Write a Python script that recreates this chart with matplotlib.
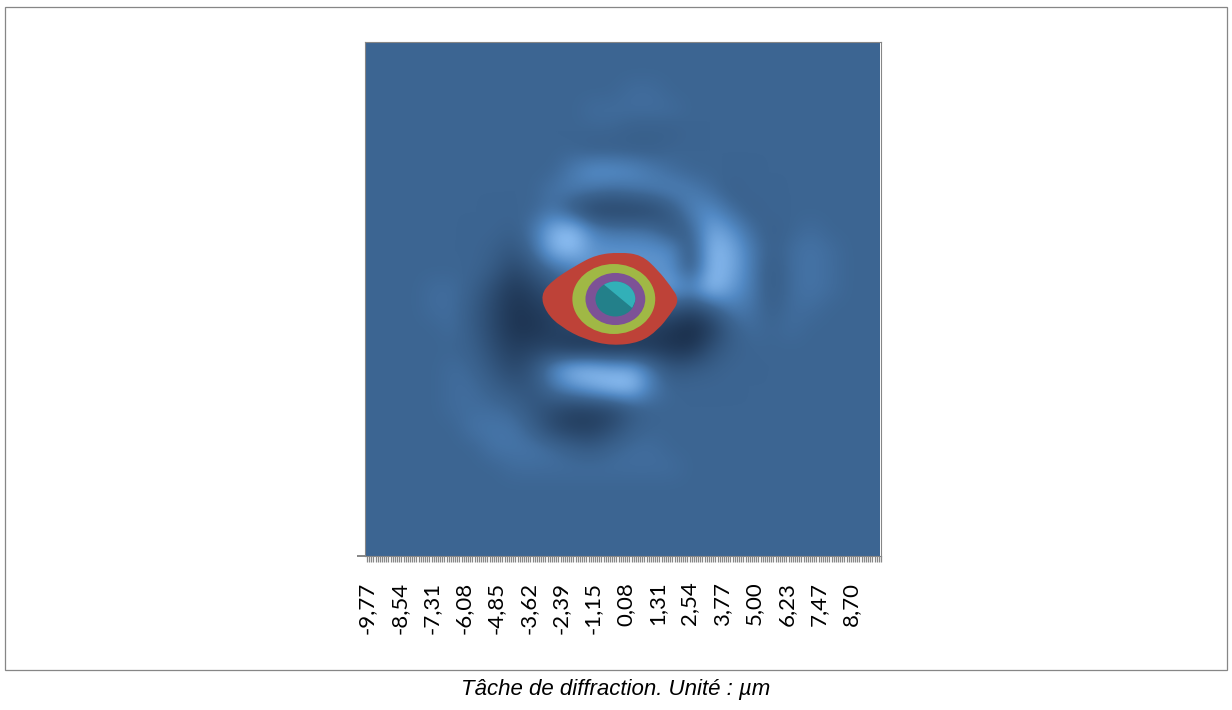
import numpy as np
import matplotlib
matplotlib.use('Agg')
import matplotlib.pyplot as plt
from matplotlib.colors import LinearSegmentedColormap
from matplotlib.patches import Ellipse, PathPatch, Rectangle
from matplotlib.path import Path

# surface shading, top row first, 26 x 26 cells
shade = [
    [0, 0, 0, 0, 0, 0, 0, 0, 0, 0, 0, 0, 0, 0, 0, 0, 0, 0, 0, 0, 0, 0, 0, 0, 0, 0],
    [0, 0, 0, 0, 0, 0, 0, 0, 0, 0, 0, 0, 0, 0, 0, 0, 0, 0, 0, 0, 0, 0, 0, 0, 0, 0],
    [0, 0, 0, 0, 0, 0, 0, 0, 0, 0, 0, 0, 0, 1, 1, 0, 0, 0, 0, 0, 0, 0, 0, 0, 0, 0],
    [0, 0, 0, 0, 0, 0, 0, 0, 0, 0, 0, 1, 1, 1, 1, 1, 0, 0, 0, 0, 0, 0, 0, 0, 0, 0],
    [0, 0, 0, 0, 0, 0, 0, 0, 0, 0, 0, 0, 0, -1, -1, -1, 0, 0, 0, 0, 0, 0, 0, 0, 0, 0],
    [0, 0, 0, 0, 0, 0, 0, 0, 0, 0, 0, -1, -1, -1, -1, 0, 0, 0, 0, 0, 0, 0, 0, 0, 0, 0],
    [0, 0, 0, 0, 0, 0, 0, 0, 0, 0, 3, 6, 6, 5, 3, 1, 0, 0, 0, 0, 0, 0, 0, 0, 0, 0],
    [0, 0, 0, 0, 0, 0, 0, 0, 0, 2, 3, 2, 1, 2, 3, 4, 3, 1, -1, 0, 0, 0, 0, 0, 0, 0],
    [0, 0, 0, 0, 0, 0, 0, 0, 0, 2, -3, -7, -7, -7, -6, -2, 4, 5, 1, -1, 0, 0, 0, 0, 0, 0],
    [0, 0, 0, 0, 0, 0, 0, -1, 2, 10, 12, 4, 2, 2, 1, -3, 0, 9, 6, 1, -1, 0, 1, 0, 0, 0],
    [0, 0, 0, 0, 0, 0, -1, -3, 1, 10, 12, 6, 6, 6, 6, 5, -3, 11, 9, 3, -1, 1, 2, 1, 0, 0],
    [0, 0, 0, 0, 0, 0, -2, -6, -3, 1, 3, 6, 6, 6, 6, 6, -3, 11, 9, 3, -2, 1, 2, 1, 0, 0],
    [0, 0, 0, 1, 1, -1, -5, -9, -7, -3, 0, 3, 3, 3, 5, 8, 5, 12, 7, 3, -2, 1, 2, 1, 0, 0],
    [0, 0, 0, 1, 1, -2, -6, -10, -9, -7, -5, -3, -3, -3, -3, -3, -6, -2, 3, 2, -1, 1, 1, 0, 0, 0],
    [0, 0, 0, 0, 1, -2, -6, -10, -10, -8, -6, -6, -6, -6, -8, -10, -12, -8, -1, 1, 0, 1, 0, 0, 0, 0],
    [0, 0, 0, 0, 0, -1, -5, -8, -7, -7, -10, -10, -10, -10, -9, -10, -10, -4, -1, 0, 0, 0, 0, 0, 0, 0],
    [0, 0, 0, 0, 1, 0, -3, -6, -3, 5, 11, 11, 9, 9, 2, -3, -2, -1, 0, 0, 0, 0, 0, 0, 0, 0],
    [0, 0, 0, 0, 1, 1, -1, -3, -3, 2, 6, 9, 12, 12, 3, 0, 0, 0, 0, 0, 0, 0, 0, 0, 0, 0],
    [0, 0, 0, 0, 1, 1, 1, 0, -3, -5, -7, -7, -6, -2, 0, 0, 0, 0, 0, 0, 0, 0, 0, 0, 0, 0],
    [0, 0, 0, 0, 0, 2, 2, 2, -1, -6, -8, -8, -5, -1, 0, 0, 0, 0, 0, 0, 0, 0, 0, 0, 0, 0],
    [0, 0, 0, 0, 0, 0, 2, 2, 2, 1, -1, -2, 0, 1, 1, 0, 0, 0, 0, 0, 0, 0, 0, 0, 0, 0],
    [0, 0, 0, 0, 0, 0, 0, 1, 1, 1, 1, 1, 1, 1, 1, 1, 0, 0, 0, 0, 0, 0, 0, 0, 0, 0],
    [0, 0, 0, 0, 0, 0, 0, 0, 0, 0, 0, 0, 0, 0, 0, 0, 0, 0, 0, 0, 0, 0, 0, 0, 0, 0],
    [0, 0, 0, 0, 0, 0, 0, 0, 0, 0, 0, 0, 0, 0, 0, 0, 0, 0, 0, 0, 0, 0, 0, 0, 0, 0],
    [0, 0, 0, 0, 0, 0, 0, 0, 0, 0, 0, 0, 0, 0, 0, 0, 0, 0, 0, 0, 0, 0, 0, 0, 0, 0],
    [0, 0, 0, 0, 0, 0, 0, 0, 0, 0, 0, 0, 0, 0, 0, 0, 0, 0, 0, 0, 0, 0, 0, 0, 0, 0],
]

# red teardrop outline, micrometres
red_x = [-3.15, -2.74, -1.80, -1.03, -0.15, 0.70, 1.32, 1.80, 2.15, 1.80, 1.32, 0.65, -0.42, -1.45, -2.40, -2.95]
red_y = [0.15, 0.68, 1.28, 1.68, 1.78, 1.68, 1.10, 0.50, -0.04, -0.58, -1.18, -1.65, -1.78, -1.55, -1.05, -0.50]

# inner bands: centre x, width, height in micrometres
band_cx = [-0.36, -0.30, -0.30]
band_w = [3.16, 2.28, 1.52]
band_h = [2.66, 1.98, 1.33]
band_col = ['#A0B845', '#7D5296', '#23808A']

# lighter facet of the central band
facet_x = [-0.80, 0.34, 0.90, -0.80]
facet_y = [0.60, -0.34, 0.90, 0.90]

tick_start = -9.77
tick_step = 0.082
n_ticks = 240
tick_labels = ['-9,77', '-8,54', '-7,31', '-6,08', '-4,85', '-3,62', '-2,39', '-1,15',
               '0,08', '1,31', '2,54', '3,77', '5,00', '6,23', '7,47', '8,70']

W, H = 1232, 710
fig = plt.figure(figsize=(W / 100, H / 100), dpi=100, facecolor='white')
fig.add_artist(Rectangle((5 / W, 1 - 670 / H), 1222 / W, 663 / H, transform=fig.transFigure,
                         facecolor='white', edgecolor='#868686', linewidth=0.9, zorder=-1))

ax = fig.add_axes([365 / W, 1 - 556 / H, 516 / W, 514 / H], zorder=2)
cmap = LinearSegmentedColormap.from_list('surf', [(0, '#182B46'), (0.5, '#3C6592'), (0.7, '#5289C4'), (1, '#93C4F8')])
x0, x1 = -9.846, 9.774
ax.imshow(np.array(shade), cmap=cmap, vmin=-12, vmax=12, extent=[x0, x1, -9.77, 9.77],
          aspect='auto', interpolation='bicubic', origin='upper')

# closed quadratic spline through the midpoints of the read outline
pts = np.column_stack([red_x, red_y])
mids = (pts + np.roll(pts, -1, axis=0)) / 2
verts = [mids[-1]]
codes = [Path.MOVETO]
for p, m in zip(pts, mids):
    verts += [p, m]
    codes += [Path.CURVE3, Path.CURVE3]
ax.add_patch(PathPatch(Path(verts, codes), facecolor='#BE4238', edgecolor='none', zorder=3))

for cx, w, h, c in zip(band_cx, band_w, band_h, band_col):
    e = Ellipse((cx, 0), w, h, facecolor=c, edgecolor='none', zorder=4)
    ax.add_patch(e)
facet = ax.fill(facet_x, facet_y, color='#32B0B8', zorder=5, linewidth=0)[0]
facet.set_clip_path(e)

ax.set_xlim(x0, x1)
ax.set_ylim(-9.77, 9.77)
for s in ax.spines.values():
    s.set_color('#868686')
    s.set_linewidth(0.8)

ticks = tick_start + tick_step * np.arange(n_ticks)
ax.set_xticks(ticks, minor=True)
ax.tick_params(axis='x', which='minor', length=4.5, width=0.9, color='#868686')
ax.set_xticks(ticks[::15][:len(tick_labels)])
ax.set_xticklabels(tick_labels, rotation=90, family='Lato', fontsize=16, color='#000000')
ax.tick_params(axis='x', which='major', length=4.5, width=0.9, color='#868686', pad=14)
ax.set_yticks([-9.77])
ax.set_yticklabels([''])
ax.tick_params(axis='y', length=6, width=1.4, color='#868686')

fig.text(616 / W, 1 - 689 / H, 'Tâche de diffraction. Unité : µm', family='Liberation Sans',
         style='italic', fontsize=16, ha='center', va='center', color='black')

fig.savefig('out.png', dpi=100)
